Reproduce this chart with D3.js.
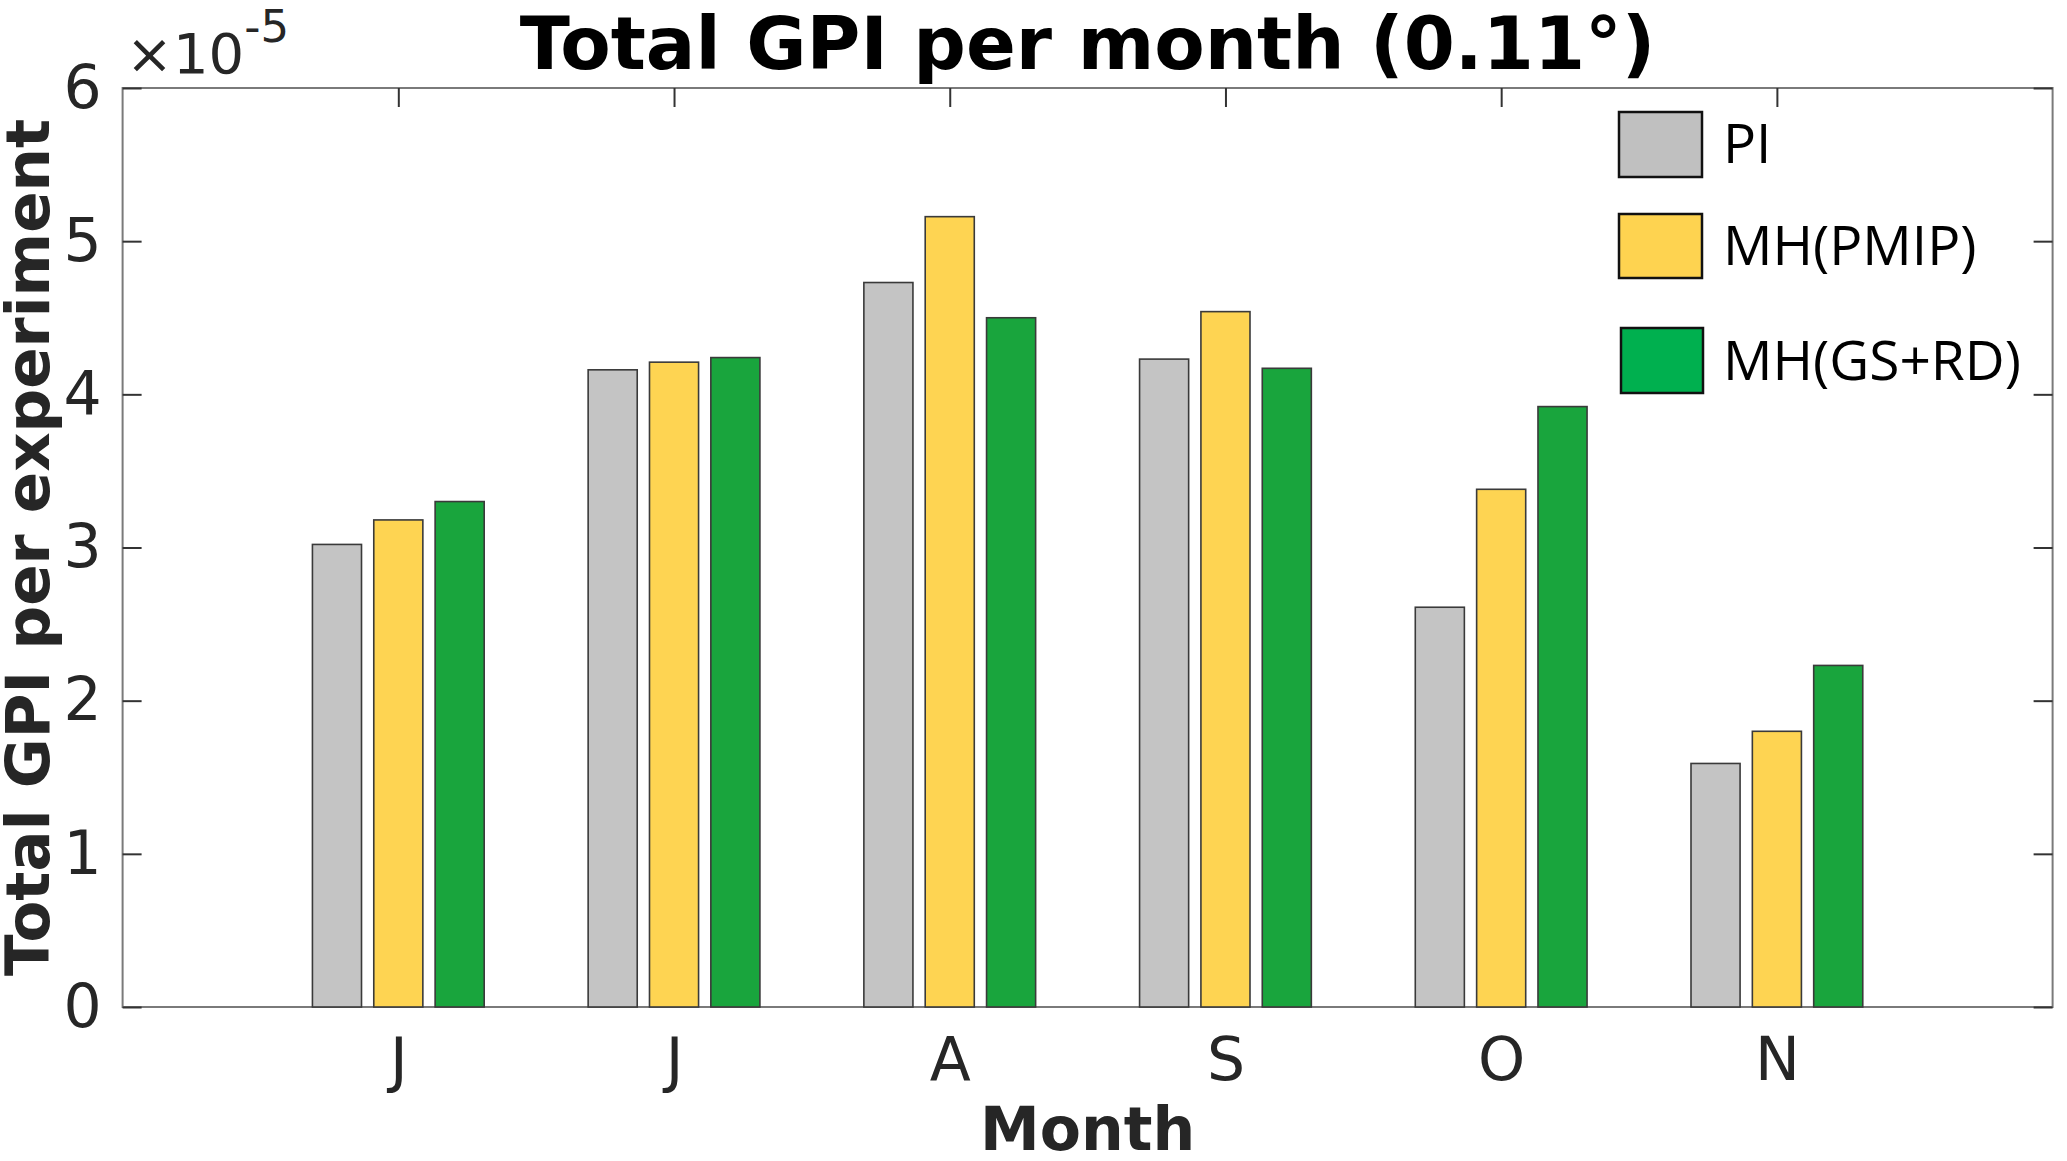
<!DOCTYPE html>
<html>
<head>
<meta charset="utf-8">
<script src="https://cdn.jsdelivr.net/npm/d3@7"></script>
<style>
  html, body { margin: 0; padding: 0; background: #fff; }
  svg { display: block; }
</style>
</head>
<body>
<script>
// ---- data ----
const months = ["J", "J", "A", "S", "O", "N"];
const seriesNames = ["PI", "MH(PMIP)", "MH(GS+RD)"];
const valuesPI   = [3.02, 4.16, 4.73, 4.23, 2.61, 1.59];
const valuesPMIP = [3.18, 4.21, 5.16, 4.54, 3.38, 1.80];
const valuesGSRD = [3.30, 4.24, 4.50, 4.17, 3.92, 2.23];
const yTicks = [0, 1, 2, 3, 4, 5, 6];
const titleText = "Total GPI per month (0.11°)";
const xLabelText = "Month";
const yLabelText = "Total GPI per experiment";

const barColors = ["#c4c4c4", "#fed452", "#19a53d"];
const legendColors = ["#c0c0c0", "#fed350", "#00b04f"];

const W = 2067, H = 1161;
const L = 122.6, R = 2052.6, T = 88, B = 1007;

const svg = d3.select("body").append("svg").attr("width", W).attr("height", H);

const x = d3.scaleLinear().domain([0, 7]).range([L, R]);
const y = d3.scaleLinear().domain([0, 6]).range([B, T]);

const series = [valuesPI, valuesPMIP, valuesGSRD];
const barW = 0.178;     // in x-units
const pitch = 0.2225;   // in x-units

// frame
svg.append("rect").attr("x", L).attr("y", T).attr("width", R - L).attr("height", B - T)
  .attr("fill", "none").attr("stroke", "#7a7a7a").attr("stroke-width", 2);

const tickLen = 19;
const fontTick = "DejaVu Sans";

// left axis with labels
const gl = svg.append("g").attr("transform", `translate(${L},0)`)
  .call(d3.axisLeft(y).tickValues(yTicks).tickFormat(d3.format("d")).tickSizeInner(-tickLen).tickSizeOuter(0).tickPadding(21));
// right axis ticks
const gr = svg.append("g").attr("transform", `translate(${R},0)`)
  .call(d3.axisRight(y).tickValues(yTicks).tickFormat("").tickSizeInner(-tickLen).tickSizeOuter(0));
// bottom axis with labels
const xTickVals = months.map((m, i) => i + 1);
const gb = svg.append("g").attr("transform", `translate(0,${B})`)
  .call(d3.axisBottom(x).tickValues(xTickVals).tickFormat((d) => months[d - 1]).tickSizeInner(-tickLen).tickSizeOuter(0).tickPadding(30));
// top axis ticks
const gt = svg.append("g").attr("transform", `translate(0,${T})`)
  .call(d3.axisTop(x).tickValues(xTickVals).tickFormat("").tickSizeInner(-tickLen).tickSizeOuter(0));

[gl, gr, gb, gt].forEach(g => {
  g.select(".domain").remove();
  g.selectAll(".tick line").attr("stroke", "#333").attr("stroke-width", 2);
  g.selectAll(".tick text").attr("fill", "#262626").attr("font-family", fontTick).attr("font-size", 60);
});

// bars
series.forEach((vals, s) => {
  svg.append("g").selectAll("rect").data(vals).join("rect")
    .attr("x", (d, i) => x(i + 1 + (s - 1) * pitch - barW / 2))
    .attr("width", (d, i) => x(barW) - x(0))
    .attr("y", d => y(d))
    .attr("height", d => y(0) - y(d))
    .attr("fill", barColors[s])
    .attr("stroke", "#3a3a3a")
    .attr("stroke-width", 1.6);
});

// exponent label
const ex = svg.append("text").attr("x", 126).attr("y", 73)
  .attr("font-family", fontTick).attr("font-size", 56).attr("fill", "#262626");
ex.append("tspan").text("×10");
ex.append("tspan").attr("font-size", 45).attr("dy", -31).text("-5");

// title
svg.append("text").attr("x", (L + R) / 2).attr("y", 69).attr("text-anchor", "middle")
  .attr("font-family", "DejaVu Sans").attr("font-weight", "bold").attr("font-size", 73.5)
  .attr("fill", "#000").text(titleText);

// x label
svg.append("text").attr("x", (L + R) / 2).attr("y", 1150).attr("text-anchor", "middle")
  .attr("font-family", "DejaVu Sans").attr("font-weight", "bold").attr("font-size", 60)
  .attr("fill", "#262626").text(xLabelText);

// y label
svg.append("text").attr("transform", `translate(49,${(T + B) / 2}) rotate(-90)`)
  .attr("text-anchor", "middle")
  .attr("font-family", "DejaVu Sans").attr("font-weight", "bold").attr("font-size", 61)
  .attr("fill", "#262626").text(yLabelText);

// legend
const legendBoxes = [
  { x: 1619, y: 112, w: 83, h: 65, ty: 163 },
  { x: 1619, y: 214, w: 83, h: 64, ty: 265 },
  { x: 1621, y: 328, w: 82, h: 65, ty: 380 }
];
const lg = svg.append("g");
lg.selectAll("rect").data(seriesNames).join("rect")
  .attr("x", (d, i) => legendBoxes[i].x).attr("y", (d, i) => legendBoxes[i].y)
  .attr("width", (d, i) => legendBoxes[i].w).attr("height", (d, i) => legendBoxes[i].h)
  .attr("fill", (d, i) => legendColors[i]).attr("stroke", "#111").attr("stroke-width", 2.5);
lg.selectAll("text").data(seriesNames).join("text")
  .attr("x", 1723).attr("y", (d, i) => legendBoxes[i].ty)
  .attr("font-family", "Open Sans").attr("font-size", 55).attr("fill", "#000")
  .text(d => d);
</script>
</body>
</html>
